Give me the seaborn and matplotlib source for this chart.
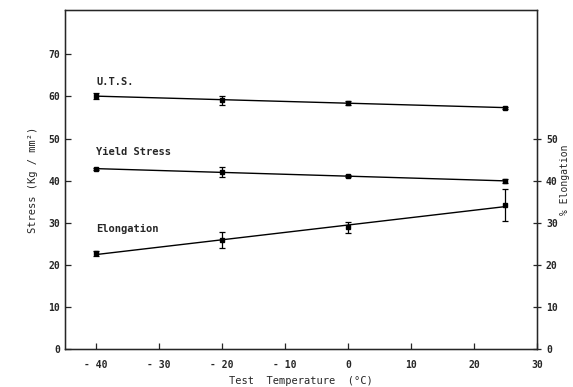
import numpy as np
import pandas as pd
import matplotlib
matplotlib.use("Agg")
import matplotlib.pyplot as plt
import seaborn as sns

# test temperatures (deg C)
temps = [-40, -20, 0, 25]

# values
uts = [60.1, 59.1, 58.5, 57.3]
uts_err = [0.8, 1.1, 0.5, 0.3]
yield_stress = [42.8, 42.0, 41.1, 39.9]
yield_err = [0.3, 1.2, 0.3, 0.5]
elongation = [22.7, 25.9, 28.9, 34.2]
elong_err = [0.5, 1.9, 1.3, 3.8]

labels = ["U.T.S.", "Yield Stress", "Elongation"]
label_y = [63.4, 46.8, 28.5]

sns.set_style("ticks")
plt.rcParams["font.family"] = ["DejaVu Sans Mono", "DejaVu Sans"]
plt.rcParams["font.weight"] = "bold"

fig = plt.figure(figsize=(5.73, 3.87), dpi=100)
ax = fig.add_axes([0.113, 0.098, 0.824, 0.876])

series = [(uts, uts_err), (yield_stress, yield_err), (elongation, elong_err)]
for (vals, errs), lab, ly in zip(series, labels, label_y):
    df = pd.DataFrame({"t": temps, "v": vals})
    sns.regplot(data=df, x="t", y="v", ax=ax, scatter=False, ci=None,
                line_kws={"color": "black", "lw": 1.0})
    ax.errorbar(temps, vals, yerr=errs, fmt="s", color="black", ms=3,
                capsize=2.5, elinewidth=0.9, capthick=0.9)
    ax.text(-40, ly, lab, fontsize=7.5, ha="left", va="center")

ax.set_xlim(-45, 30)
ax.set_ylim(0, 80.5)
ax.set_xticks(range(-40, 31, 10))
ax.set_xticklabels(["- 40", "- 30", "- 20", "- 10", "0", "10", "20", "30"])
ax.set_yticks(range(0, 71, 10))
ax.tick_params(direction="in", length=4, labelsize=7, width=0.9)
ax.tick_params(axis="x", pad=8)
ax.set_xlabel("Test  Temperature  (°C)", fontsize=7.5, labelpad=4)
ax.set_ylabel("Stress (Kg / mm²)", fontsize=7.5, labelpad=7)
for s in ax.spines.values():
    s.set_linewidth(1.0)
    s.set_color("black")

ax2 = ax.twinx()
ax2.set_ylim(0, 80.5)
ax2.set_yticks(range(0, 51, 10))
ax2.tick_params(direction="inout", length=6, labelsize=7, width=0.9)
ax2.set_ylabel("% Elongation", fontsize=7, labelpad=2)

fig.savefig("out.png", dpi=100, facecolor="white")
